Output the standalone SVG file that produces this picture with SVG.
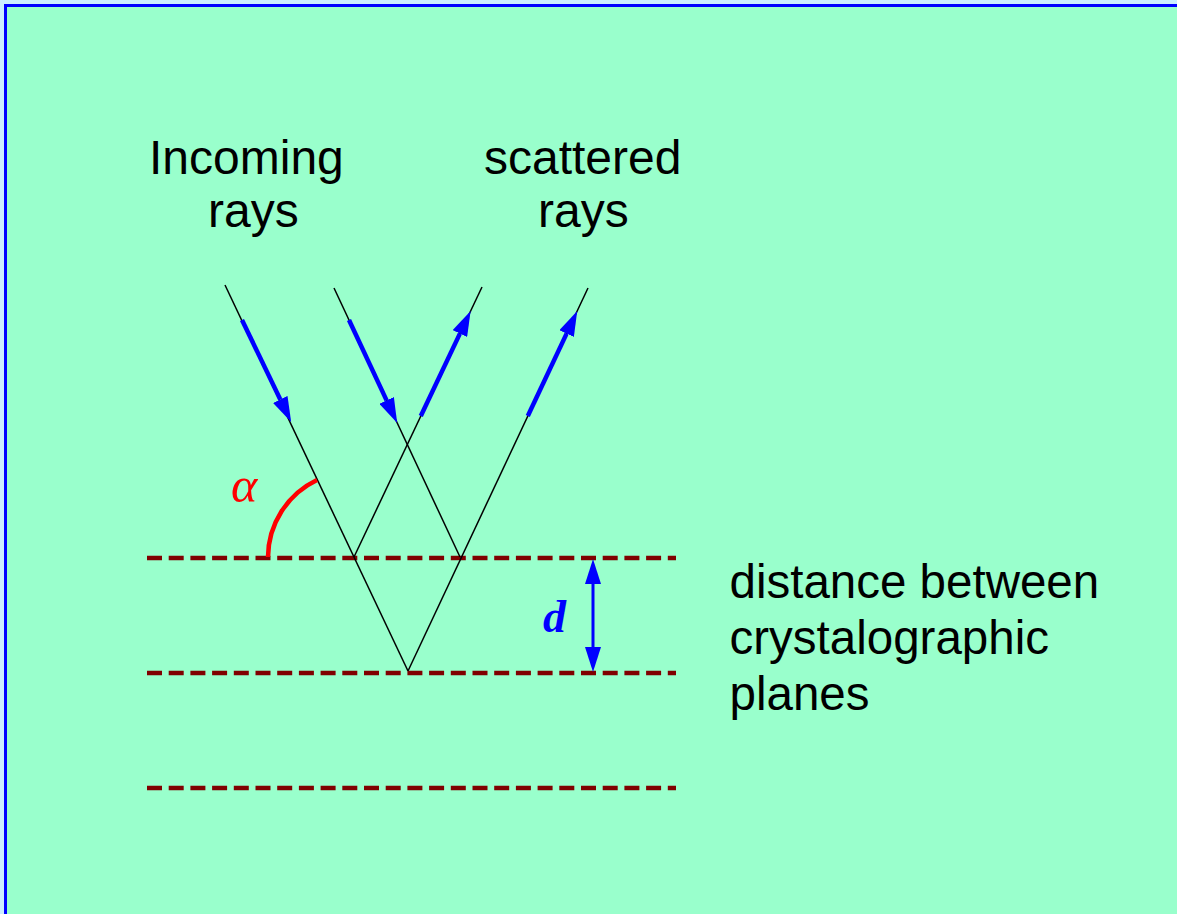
<svg xmlns="http://www.w3.org/2000/svg" width="1177" height="914" viewBox="0 0 1177 914">
<style>
.lbl{font-family:"Liberation Sans",Arial,sans-serif;font-size:48px;fill:#000}
.ray{stroke:#000;stroke-width:1.5;fill:none}
.plane{stroke:#800000;stroke-width:4.5;stroke-dasharray:15 6.7;fill:none}
.blue{stroke:#0000ff;stroke-width:4.5;fill:none;marker-end:url(#ah)}
</style>
<defs>
<marker id="ah" markerUnits="userSpaceOnUse" viewBox="0 -8 25 16" markerWidth="25" markerHeight="16" refX="0" refY="0" orient="auto-start-reverse">
<path d="M0,-8 L25,0 L0,8 z" fill="#0000ff"/>
</marker>
</defs>
<rect x="0" y="0" width="1177" height="914" fill="#cceeff"/>
<rect x="5.5" y="5.5" width="1200" height="950" fill="#99ffcc" stroke="#0000ff" stroke-width="3"/>
<g id="planes">
<line class="plane" x1="147" y1="558" x2="676" y2="558"/>
<line class="plane" x1="147" y1="673" x2="676" y2="673"/>
<line class="plane" x1="147" y1="788" x2="676" y2="788"/>
</g>
<g id="connectors">
<line class="ray" x1="225" y1="285" x2="408" y2="671"/>
<line class="ray" x1="408" y1="671" x2="588" y2="288"/>
<line class="ray" x1="334" y1="288" x2="460" y2="557"/>
<line class="ray" x1="354" y1="557" x2="482" y2="287"/>
<line class="blue" x1="242" y1="320" x2="280.3" y2="399.4"/>
<line class="blue" x1="349" y1="320" x2="386.6" y2="400.4"/>
<line class="blue" x1="420.8" y1="416" x2="459.9" y2="333.6"/>
<line class="blue" x1="527.8" y1="416" x2="566.6" y2="333.6"/>
<line x1="593" y1="584" x2="593" y2="647" stroke="#0000ff" stroke-width="3" marker-start="url(#ah)" marker-end="url(#ah)"/>
<path d="M268,557 A86,86 0 0 1 317,480" stroke="#ff0000" stroke-width="4.5" fill="none"/>
</g>
<g id="label-incoming">
<text class="lbl" x="149" y="173.5">Incoming</text>
<text class="lbl" x="208" y="227">rays</text>
</g>
<g id="label-scattered">
<text class="lbl" x="484" y="173.5">scattered</text>
<text class="lbl" x="538" y="227">rays</text>
</g>
<g id="label-distance">
<text class="lbl" x="729.5" y="598" style="font-size:47.5px">distance between</text>
<text class="lbl" x="729.5" y="654" style="font-size:47.5px">crystalographic</text>
<text class="lbl" x="729.5" y="710" style="font-size:47.5px">planes</text>
</g>
<g id="label-alpha">
<text x="231" y="502" font-family="'Liberation Serif','Times New Roman',serif" font-style="italic" font-size="50" fill="#ff0000">α</text>
</g>
<g id="label-d">
<text x="543" y="632" font-family="'Liberation Serif','Times New Roman',serif" font-style="italic" font-weight="bold" font-size="46" fill="#0000ff">d</text>
</g>
</svg>
